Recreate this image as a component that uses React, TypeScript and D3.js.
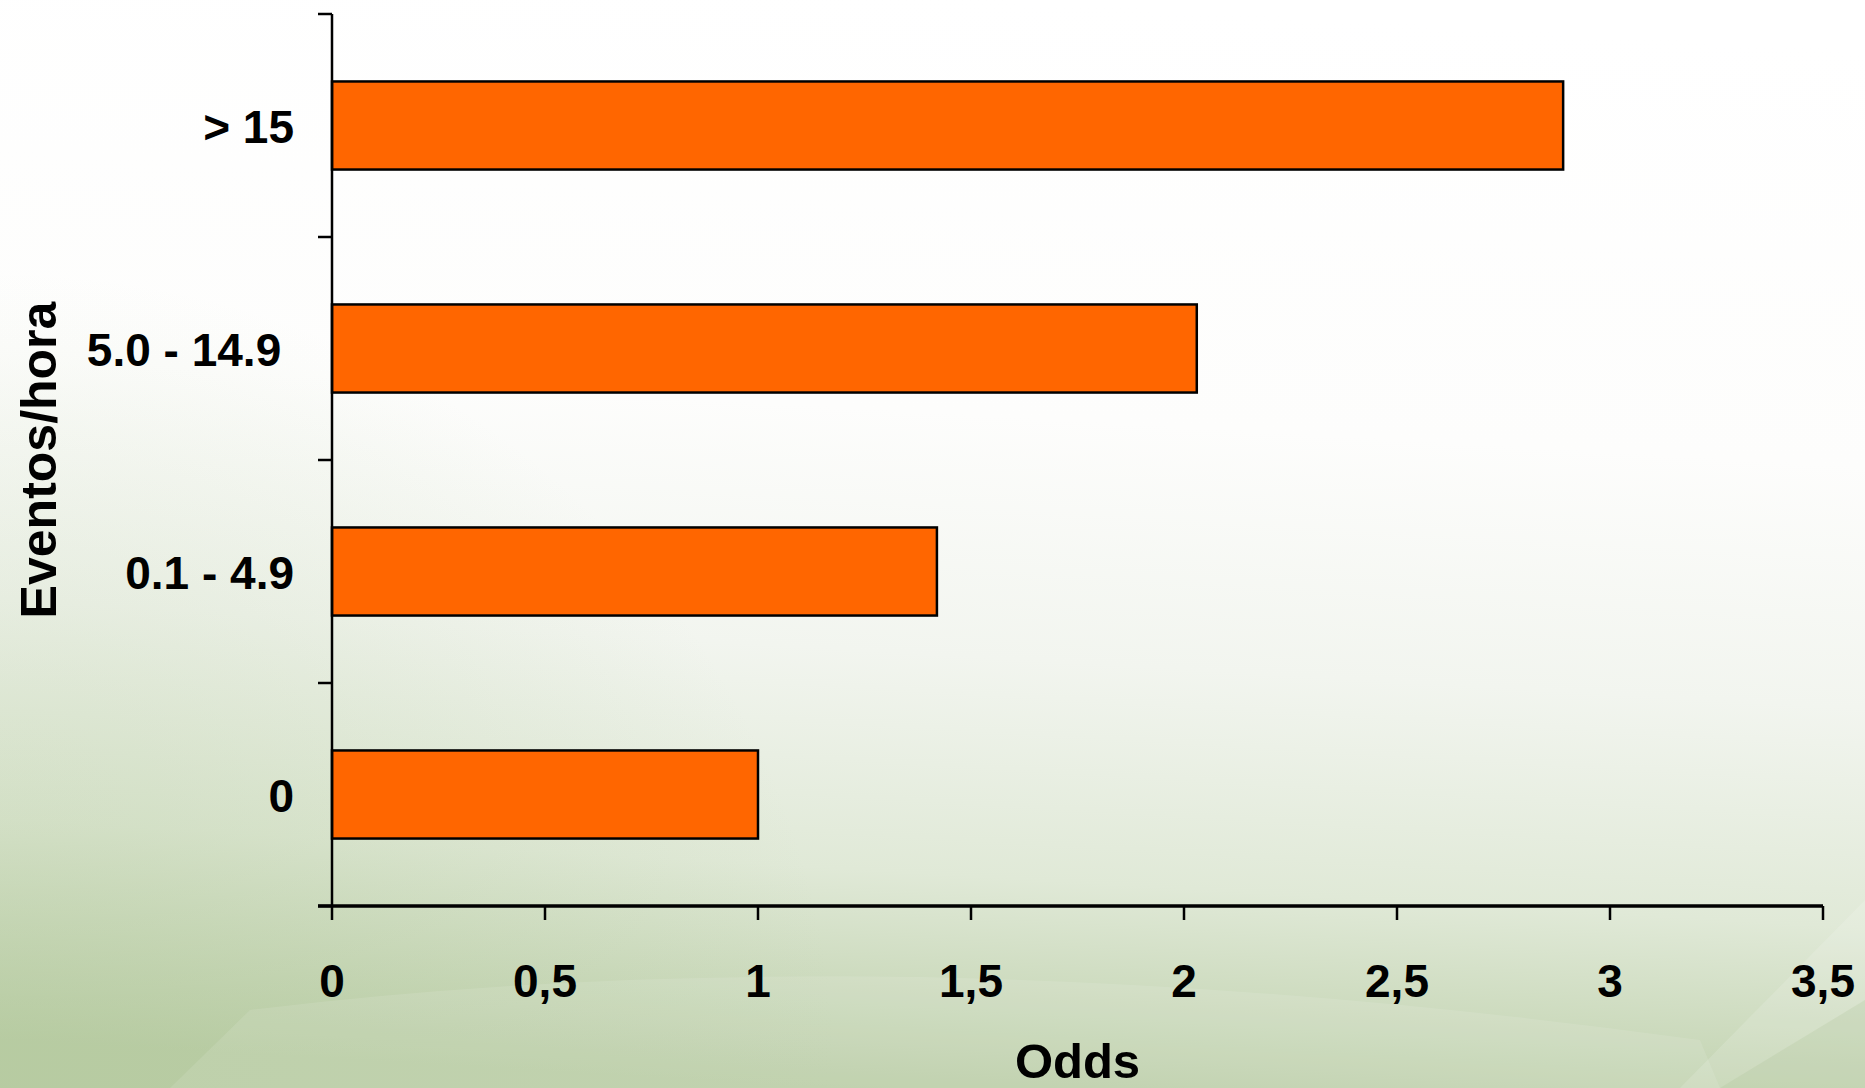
import React from "react";
import * as d3 from "d3";

// Events per hour categories (top to bottom) and their odds
const categories = ["> 15", "5.0 - 14.9 ", "0.1 - 4.9", "0"];
const odds = [2.89, 2.03, 1.42, 1.0];
const xTicks = [0, 0.5, 1, 1.5, 2, 2.5, 3, 3.5];
const xTitle = "Odds";
const yTitle = "Eventos/hora";

const W = 1865;
const H = 1088;
const FONT = "'Liberation Sans', Arial, sans-serif";

const ptBR = d3.formatLocale({
  decimal: ",",
  thousands: ".",
  grouping: [3],
  currency: ["", ""],
});
const fmt = ptBR.format("~g");

export default function App() {
  const left = 332;
  const right = 1823;
  const top = 14;
  const bottom = 906;

  const x = d3.scaleLinear().domain([0, 3.5]).range([left, right]);
  const y = d3.scaleBand<string>().domain(categories).range([top, bottom]).padding(0);
  const barH = y.bandwidth() * 0.395;
  const tickLen = 14;

  const bandEdges = [...categories.map((c) => y(c) as number), bottom];

  return (
    <svg
      width={W}
      height={H}
      style={{ position: "absolute", left: 0, top: 0, display: "block" }}
      fontFamily={FONT}
    >
      <defs>
        <linearGradient id="bg" x1="0.55" y1="0" x2="0.45" y2="1">
          <stop offset="0" stopColor="#ffffff" />
          <stop offset="0.38" stopColor="#fdfdfc" />
          <stop offset="0.6" stopColor="#f2f5ef" />
          <stop offset="0.8" stopColor="#e0e9d7" />
          <stop offset="1" stopColor="#bacda6" />
        </linearGradient>
        <radialGradient id="leftShade" cx="0" cy="1" r="0.75" gradientTransform="scale(0.6,1)">
          <stop offset="0" stopColor="#b3c99c" stopOpacity="0.45" />
          <stop offset="1" stopColor="#b3c99c" stopOpacity="0" />
        </radialGradient>
      </defs>

      {/* slide background */}
      <rect x={0} y={0} width={W} height={H} fill="url(#bg)" />
      <rect x={0} y={0} width={W} height={H} fill="url(#leftShade)" />
      {/* faint decorative sweeps */}
      <path
        d="M170,1088 L250,1010 Q900,930 1700,1040 L1720,1088 Z"
        fill="#ffffff"
        opacity={0.1}
      />
      <path d="M1680,1088 L1865,900 L1865,1088 Z" fill="#ffffff" opacity={0.14} />
      <path d="M1720,1088 L1865,1000 L1865,1088 Z" fill="#a9bf92" opacity={0.22} />

      {/* bars */}
      {categories.map((c, i) => {
        const cy = (y(c) as number) + y.bandwidth() / 2;
        return (
          <rect
            key={c}
            x={x(0)}
            y={cy - barH / 2}
            width={x(odds[i]) - x(0)}
            height={barH}
            fill="#ff6600"
            stroke="#000"
            strokeWidth={2.5}
          />
        );
      })}

      {/* y axis */}
      <line x1={left} x2={left} y1={top} y2={bottom} stroke="#000" strokeWidth={2.5} />
      {bandEdges.map((v, i) => (
        <line key={i} x1={left - tickLen} x2={left} y1={v} y2={v} stroke="#000" strokeWidth={2.5} />
      ))}
      {categories.map((c) => (
        <text
          key={c}
          x={294}
          y={(y(c) as number) + y.bandwidth() / 2}
          dy="0.37em"
          textAnchor="end"
          fontSize={46}
          fontWeight="bold"
          style={{ whiteSpace: "pre" }}
          fill="#000"
        >
          {c}
        </text>
      ))}

      {/* x axis */}
      <line x1={left - tickLen} x2={right} y1={bottom} y2={bottom} stroke="#000" strokeWidth={3.5} />
      {xTicks.map((t) => (
        <g key={t}>
          <line x1={x(t)} x2={x(t)} y1={bottom} y2={bottom + tickLen} stroke="#000" strokeWidth={2.5} />
          <text
            x={x(t)}
            y={997}
            textAnchor="middle"
            fontSize={46}
            fontWeight="bold"
            fill="#000"
          >
            {fmt(t)}
          </text>
        </g>
      ))}

      {/* axis titles */}
      <text
        x={(left + right) / 2}
        y={1078}
        textAnchor="middle"
        fontSize={49}
        fontWeight="bold"
        fill="#000"
      >
        {xTitle}
      </text>
      <text
        transform={`translate(56,${(top + bottom) / 2}) rotate(-90)`}
        textAnchor="middle"
        fontSize={50}
        fontWeight="bold"
        fill="#000"
      >
        {yTitle}
      </text>
    </svg>
  );
}
